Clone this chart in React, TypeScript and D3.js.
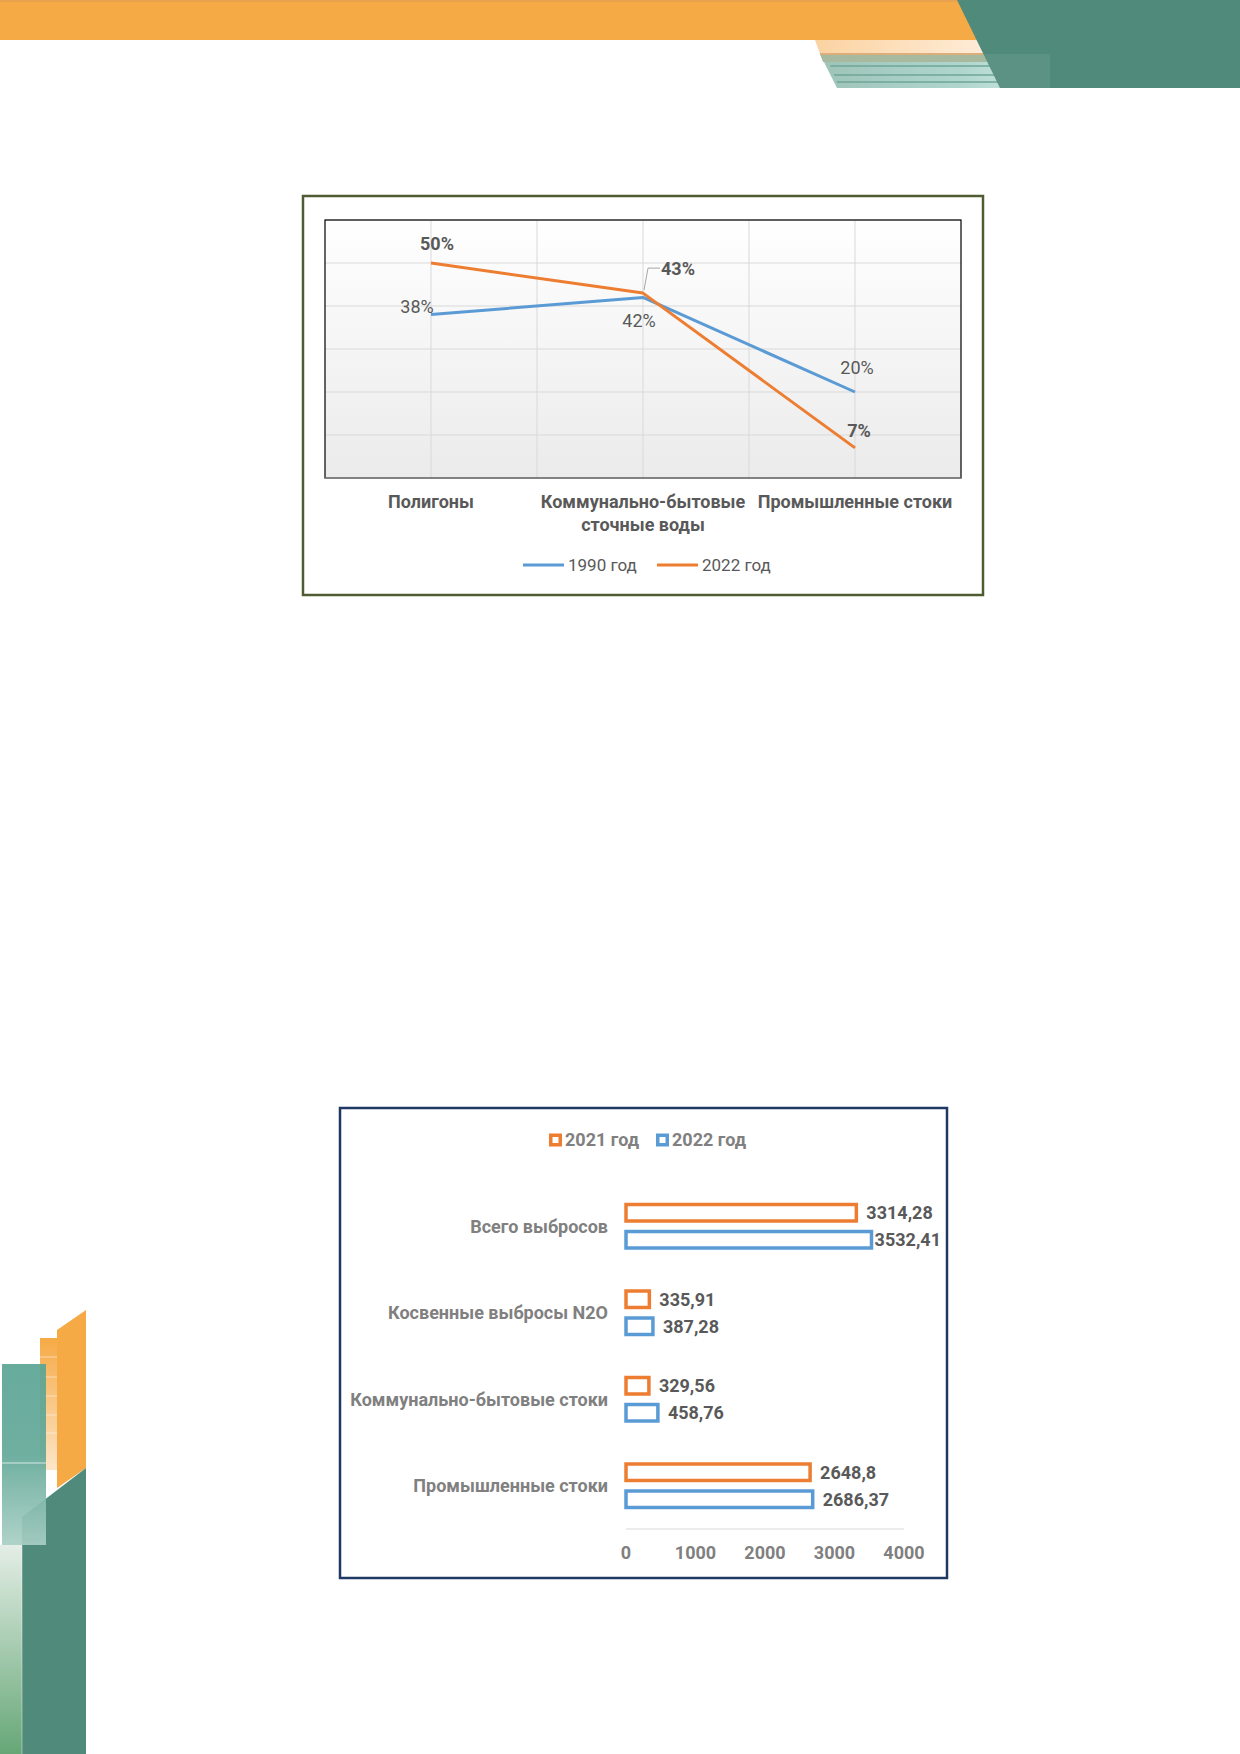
import React from 'react';
import * as d3 from 'd3';

const FONT = 'Roboto, "Noto Sans", sans-serif';
const BLUE = '#5b9bd5';
const ORANGE = '#ed7d31';
const TEXT_DARK = '#595959';
const TEXT_GRAY = '#808080';

// --- line chart data (share of emissions) ---
const lineCategories = [['Полигоны'], ['Коммунально-бытовые', 'сточные воды'], ['Промышленные стоки']];
const share1990 = [0.38, 0.42, 0.2];
const share2022 = [0.5, 0.43, 0.07];
const lineSeriesNames = ['1990 год', '2022 год'];

// --- bar chart data ---
const barCategories = ['Всего выбросов', 'Косвенные выбросы N2O', 'Коммунально-бытовые стоки', 'Промышленные стоки'];
const emissions2021 = [3314.28, 335.91, 329.56, 2648.8];
const emissions2022 = [3532.41, 387.28, 458.76, 2686.37];
const barSeriesNames = ['2021 год', '2022 год'];
const barTicks = [0, 1000, 2000, 3000, 4000];

// label nudges (Excel placed these by hand)
const labelNudge1990 = [[-14, -8], [-4, 23], [2, -24]];
const labelNudge2022 = [[6, -19], [35, -25], [4, -17]];

const pct = d3.format('.0%');
const comma = (v: number) => String(v).replace('.', ',');

const Decorations = () => (
  <g>
    <defs>
      <linearGradient id="peach" x1="0" x2="1" y1="0" y2="0">
        <stop offset="0" stopColor="#fbd3a2" />
        <stop offset="1" stopColor="#fff1e2" />
      </linearGradient>
      <linearGradient id="stripeTeal" x1="0" x2="1" y1="0" y2="0">
        <stop offset="0" stopColor="#9ec4b8" />
        <stop offset="0.6" stopColor="#afd6cc" />
        <stop offset="1" stopColor="#d0e9e3" />
      </linearGradient>
      <linearGradient id="orangeFade" x1="0" x2="0" y1="0" y2="1">
        <stop offset="0" stopColor="#f6aa46" />
        <stop offset="1" stopColor="#fde6c8" />
      </linearGradient>
      <linearGradient id="tealFade" x1="0" x2="0" y1="0" y2="1">
        <stop offset="0" stopColor="#5aa494" />
        <stop offset="0.5" stopColor="#62a898" />
        <stop offset="1" stopColor="#a9cfc4" />
      </linearGradient>
      <linearGradient id="greenFade" x1="0" x2="0" y1="0" y2="1">
        <stop offset="0" stopColor="#e4eee6" />
        <stop offset="1" stopColor="#66a777" />
      </linearGradient>
    </defs>
    {/* top band */}
    <rect x={0} y={0} width={990} height={40} fill="#f6aa46" />
    <rect x={0} y={0} width={990} height={2} fill="#e9a250" />
    <polygon points="815,40 1010,40 1020,54 820,54" fill="url(#peach)" />
    <polygon points="820,54 1020,54 1052,88 837,88" fill="url(#stripeTeal)" />
    <polygon points="820,54 1020,54 1030,62 823,62" fill="#a7baa0" />
    <line x1={820} y1={54} x2={1010} y2={54} stroke="#dcae7c" strokeWidth={2} />
    {[66, 75, 82].map(yy => (
      <line key={yy} x1={820 + (yy - 40) * 0.4} y1={yy} x2={1045} y2={yy} stroke="#6fa597" strokeWidth={1.5} />
    ))}
    <polygon points="957,0 1240,0 1240,88 1000,88" fill="#508a7b" />
    <polygon points="983,54 1050,54 1050,88 1000,88" fill="#ffffff" opacity={0.07} />

    {/* bottom-left decoration */}
    <rect x={40} y={1338} width={17} height={132} fill="url(#orangeFade)" />
    {[1357, 1377, 1396, 1415, 1433].map(yy => (
      <line key={yy} x1={40} y1={yy} x2={57} y2={yy} stroke="#fff" strokeOpacity={0.6} strokeWidth={0.8} />
    ))}
    <polygon points="57,1330 86,1310 86,1468 57,1488" fill="#f6aa46" />
    <rect x={0} y={1545} width={22} height={209} fill="url(#greenFade)" />
    <polygon points="22,1517 86,1468 86,1754 22,1754" fill="#508a7b" />
    <rect x={2} y={1364} width={44} height={181} fill="url(#tealFade)" opacity={0.92} />
    <line x1={2} y1={1463} x2={46} y2={1463} stroke="#fff" strokeOpacity={0.7} strokeWidth={1} />
    <line x1={22} y1={1545} x2={22} y2={1754} stroke="#fff" strokeOpacity={0.5} strokeWidth={0.8} />
  </g>
);

const LineChart = () => {
  const box = { x: 303, y: 196, w: 680, h: 399 };
  const plot = { left: 325, right: 961, top: 220, bottom: 478 };
  const x = d3.scaleBand<number>().domain(d3.range(lineCategories.length)).range([plot.left, plot.right]);
  const cx = (i: number) => (x(i) as number) + x.bandwidth() / 2;
  const y = d3.scaleLinear().domain([0, 0.6]).range([plot.bottom, plot.top]);
  const line = d3.line<number>().x((_, i) => cx(i)).y(d => y(d));
  const gridX = [...d3.range(lineCategories.length).map(cx), ...d3.range(1, lineCategories.length).map(i => x(i) as number)];

  const series = [
    { name: lineSeriesNames[0], values: share1990, color: BLUE, bold: false, nudge: labelNudge1990 },
    { name: lineSeriesNames[1], values: share2022, color: ORANGE, bold: true, nudge: labelNudge2022 },
  ];

  const legendY = 565;
  const legendItems = [
    { x: 523, color: BLUE, name: lineSeriesNames[0] },
    { x: 657, color: ORANGE, name: lineSeriesNames[1] },
  ];

  return (
    <g fontFamily={FONT}>
      <defs>
        <linearGradient id="plotBg" x1="0" x2="0" y1="0" y2="1">
          <stop offset="0" stopColor="#ffffff" />
          <stop offset="1" stopColor="#ebebeb" />
        </linearGradient>
      </defs>
      <rect x={box.x} y={box.y} width={box.w} height={box.h} fill="#fff" stroke="#4f5c33" strokeWidth={2.5} />
      <rect x={plot.left} y={plot.top} width={plot.right - plot.left} height={plot.bottom - plot.top} fill="url(#plotBg)" />
      {y.ticks(6).map(t => (
        <line key={t} x1={plot.left} x2={plot.right} y1={y(t)} y2={y(t)} stroke="#d9d9d9" strokeWidth={1} />
      ))}
      {gridX.map(gx => (
        <line key={gx} x1={gx} x2={gx} y1={plot.top} y2={plot.bottom} stroke="#d9d9d9" strokeWidth={1} />
      ))}
      <rect x={plot.left} y={plot.top} width={plot.right - plot.left} height={plot.bottom - plot.top} fill="none" stroke="#000" strokeWidth={1.2} />
      <line x1={plot.left} x2={plot.right} y1={plot.bottom} y2={plot.bottom} stroke="#a6a6a6" strokeWidth={1.2} />

      {series.map(s => (
        <path key={s.name} d={line(s.values) as string} fill="none" stroke={s.color} strokeWidth={3} strokeLinejoin="round" />
      ))}

      {series.map(s =>
        s.values.map((v, i) => {
          const px = cx(i);
          const py = y(v);
          const lx = px + s.nudge[i][0];
          const ly = py + s.nudge[i][1];
          const leader = s.nudge[i][0] > 25;
          return (
            <g key={s.name + i}>
              {leader && (
                <polyline
                  points={`${px + 1},${py - 3} ${px + 5},${ly} ${lx - 18},${ly}`}
                  fill="none"
                  stroke="#a6a6a6"
                  strokeWidth={1}
                />
              )}
              <text x={lx} y={ly} dy="0.36em" textAnchor="middle" fontSize={18} fontWeight={s.bold ? 700 : 400} fill={TEXT_DARK}>
                {pct(v)}
              </text>
            </g>
          );
        })
      )}

      {lineCategories.map((lines, i) => (
        <text key={i} x={cx(i)} y={508} textAnchor="middle" fontSize={18} fontWeight={700} fill={TEXT_DARK}>
          {lines.map((l, j) => (
            <tspan key={j} x={cx(i)} dy={j === 0 ? 0 : 23}>{l}</tspan>
          ))}
        </text>
      ))}

      {legendItems.map(it => (
        <g key={it.name}>
          <line x1={it.x} x2={it.x + 41} y1={legendY} y2={legendY} stroke={it.color} strokeWidth={3} />
          <text x={it.x + 45} y={legendY} dy="0.36em" fontSize={17} fill={TEXT_DARK}>{it.name}</text>
        </g>
      ))}
    </g>
  );
};

const BarChart = () => {
  const box = { x: 340, y: 1108, w: 607, h: 470 };
  const xs = d3.scaleLinear().domain([0, 4000]).range([626, 904]);
  const yb = d3.scaleBand<string>().domain(barCategories).range([1183, 1529]);
  const inner = d3.scaleBand<string>().domain(barSeriesNames).range([-23.5, 23.5]).paddingInner(0.26);
  const sw = 3.5;
  const series = [
    { name: barSeriesNames[0], values: emissions2021, color: ORANGE },
    { name: barSeriesNames[1], values: emissions2022, color: BLUE },
  ];
  const boxRight = box.x + box.w;
  const legendY = 1140;
  const legendItems = [
    { x: 549, color: ORANGE, name: barSeriesNames[0] },
    { x: 656, color: BLUE, name: barSeriesNames[1] },
  ];

  return (
    <g fontFamily={FONT}>
      <rect x={box.x} y={box.y} width={box.w} height={box.h} fill="#fff" stroke="#1f3864" strokeWidth={2.5} />

      {legendItems.map(it => (
        <g key={it.name}>
          <rect x={it.x + sw / 2} y={legendY - 6.5 + sw / 2} width={13 - sw} height={13 - sw} fill="#fff" stroke={it.color} strokeWidth={sw} />
          <text x={it.x + 16} y={legendY} dy="0.36em" fontSize={18} fontWeight={700} fill={TEXT_GRAY}>{it.name}</text>
        </g>
      ))}

      <line x1={xs(0)} x2={xs(4000)} y1={yb.range()[1]} y2={yb.range()[1]} stroke="#d9d9d9" strokeWidth={1} />

      {barCategories.map((cat, ci) => {
        const c = (yb(cat) as number) + yb.bandwidth() / 2;
        return (
          <g key={cat}>
            <text x={608} y={c} dy="0.36em" textAnchor="end" fontSize={18} fontWeight={700} fill={TEXT_GRAY}>{cat}</text>
            {series.map(s => {
              const v = s.values[ci];
              const top = c + (inner(s.name) as number);
              const end = xs(v);
              const label = comma(v);
              const fits = end + 10 + label.length * 10 < boxRight - 4;
              return (
                <g key={s.name}>
                  <rect
                    x={xs(0)}
                    y={top + sw / 2}
                    width={end - xs(0)}
                    height={inner.bandwidth() - sw}
                    fill="#fff"
                    stroke={s.color}
                    strokeWidth={sw}
                  />
                  <text
                    x={fits ? end + 10 : boxRight - 6}
                    y={top + inner.bandwidth() / 2}
                    dy="0.36em"
                    textAnchor={fits ? 'start' : 'end'}
                    fontSize={18}
                    fontWeight={700}
                    fill={TEXT_DARK}
                  >
                    {label}
                  </text>
                </g>
              );
            })}
          </g>
        );
      })}

      {barTicks.map(t => (
        <text key={t} x={xs(t)} y={1553} dy="0.36em" textAnchor="middle" fontSize={18} fontWeight={700} fill={TEXT_GRAY}>
          {t}
        </text>
      ))}
    </g>
  );
};

export default function App() {
  return (
    <svg
      width={1240}
      height={1754}
      viewBox="0 0 1240 1754"
      style={{ position: 'absolute', left: 0, top: 0, background: '#fff' }}
    >
      <rect x={0} y={0} width={1240} height={1754} fill="#fff" />
      <Decorations />
      <LineChart />
      <BarChart />
    </svg>
  );
}
